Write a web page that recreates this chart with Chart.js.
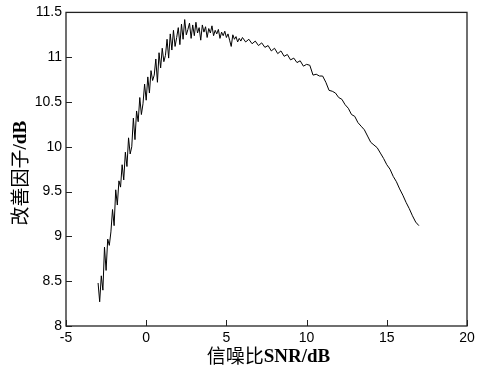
<!DOCTYPE html>
<html>
<head>
<meta charset="utf-8">
<script src="https://cdn.jsdelivr.net/npm/chart.js@4.4.0/dist/chart.umd.min.js"></script>
<style>
html,body{margin:0;padding:0;background:#fff;}
canvas{display:block;}
</style>
</head>
<body>
<canvas id="c" width="488" height="368"></canvas>
<script>
const snr = [
-3.0,-2.9,-2.8,-2.7,-2.6,-2.5,-2.4,-2.3,-2.2,-2.1,
-2.0,-1.9,-1.8,-1.7,-1.6,-1.5,-1.4,-1.3,-1.2,-1.1,
-1.0,-0.9,-0.8,-0.7,-0.6,-0.5,-0.4,-0.3,-0.2,-0.1,
0.0,0.1,0.2,0.3,0.4,0.5,0.6,0.7,0.8,0.9,
1.0,1.1,1.2,1.3,1.4,1.5,1.6,1.7,1.8,1.9,
2.0,2.1,2.2,2.3,2.4,2.5,2.6,2.7,2.8,2.9,
3.0,3.1,3.2,3.3,3.4,3.5,3.6,3.7,3.8,3.9,
4.0,4.1,4.2,4.3,4.4,4.5,4.6,4.7,4.8,4.9,
5.0,5.1,5.2,5.3,5.4,5.5,5.6,5.7,5.8,5.9,
6.0,6.2,6.4,6.6,6.8,7.0,7.2,7.4,7.6,7.8,
8.0,8.2,8.4,8.6,8.8,9.0,9.2,9.4,9.6,9.8,
10.0,10.2,10.4,10.6,10.8,11.0,11.2,11.4,11.6,11.8,
12.0,12.2,12.4,12.6,12.8,13.0,13.2,13.4,13.6,13.8,
14.0,14.2,14.4,14.6,14.8,15.0,15.2,15.4,15.6,15.8,
16.0,16.2,16.4,16.6,16.8,17.0
];
const gain = [
8.48,8.27,8.56,8.40,8.88,8.62,8.97,8.90,9.05,9.30,
9.12,9.52,9.35,9.62,9.55,9.80,9.63,9.94,9.78,10.10,
9.92,10.00,10.32,10.08,10.40,10.28,10.55,10.36,10.48,10.70,
10.52,10.78,10.60,10.85,10.74,10.80,10.98,10.72,11.05,10.88,
11.10,10.95,11.02,11.20,10.99,11.26,11.08,11.30,11.12,11.22,
11.33,11.14,11.37,11.20,11.42,11.25,11.31,11.38,11.21,11.36,
11.24,11.39,11.27,11.33,11.19,11.36,11.28,11.34,11.22,11.32,
11.27,11.35,11.24,11.30,11.26,11.31,11.21,11.28,11.24,11.29,
11.22,11.26,11.19,11.12,11.25,11.20,11.23,11.17,11.21,11.18,
11.22,11.17,11.20,11.15,11.18,11.13,11.16,11.11,11.13,11.07,
11.10,11.04,11.07,11.01,11.03,10.97,10.99,10.94,10.96,10.90,
10.92,10.91,10.80,10.81,10.79,10.79,10.72,10.63,10.62,10.60,
10.55,10.53,10.47,10.43,10.36,10.34,10.27,10.23,10.19,10.12,
10.05,10.02,9.99,9.93,9.87,9.80,9.75,9.67,9.61,9.53,
9.46,9.38,9.31,9.23,9.16,9.12
];
const xTicks = [-5, 0, 5, 10, 15, 20];
const yTicks = [8, 8.5, 9, 9.5, 10, 10.5, 11, 11.5];
const xTitleParts = ['信噪比', 'SNR/dB'];
const yTitleParts = ['改善因子', '/dB'];

const points = snr.map((x, i) => ({x: x, y: gain[i]}));

const cjkFont = 'normal 19px "Noto Sans CJK SC", sans-serif';
const latinFont = 'bold 19px "Liberation Serif", "Times New Roman", serif';

function drawTitle(ctx, parts, cx, cy, rot) {
  ctx.save();
  ctx.translate(cx, cy);
  ctx.rotate(rot);
  ctx.fillStyle = '#000';
  ctx.textBaseline = 'middle';
  ctx.textAlign = 'left';
  ctx.font = cjkFont;
  const w1 = ctx.measureText(parts[0]).width;
  ctx.font = latinFont;
  const w2 = ctx.measureText(parts[1]).width;
  let x0 = -(w1 + w2) / 2;
  ctx.font = cjkFont;
  ctx.fillText(parts[0], x0, 0);
  ctx.font = latinFont;
  ctx.fillText(parts[1], x0 + w1, 1);
  ctx.restore();
}

const frame = {
  id: 'frame',
  afterDraw(chart) {
    const {ctx, chartArea: a, scales} = chart;
    ctx.save();
    ctx.strokeStyle = '#222';
    ctx.lineWidth = 1.3;
    ctx.strokeRect(a.left, a.top, a.right - a.left, a.bottom - a.top);
    ctx.lineWidth = 1;
    ctx.beginPath();
    xTicks.forEach(v => {
      const px = Math.round(scales.x.getPixelForValue(v)) + 0.5;
      ctx.moveTo(px, a.bottom);
      ctx.lineTo(px, a.bottom - 6);
    });
    yTicks.forEach(v => {
      const py = Math.round(scales.y.getPixelForValue(v)) + 0.5;
      ctx.moveTo(a.left, py);
      ctx.lineTo(a.left + 6, py);
    });
    ctx.stroke();
    ctx.restore();
    drawTitle(ctx, xTitleParts, (a.left + a.right) / 2 + 2, 356, 0);
    drawTitle(ctx, yTitleParts, 20, (a.top + a.bottom) / 2 + 4, -Math.PI / 2);
  }
};

const tickFont = {family: '"Liberation Sans", Arial, sans-serif', size: 14};

new Chart(document.getElementById('c'), {
  type: 'line',
  data: {
    datasets: [{
      data: points,
      borderColor: '#000',
      borderWidth: 1,
      pointRadius: 0,
      tension: 0,
      fill: false
    }]
  },
  options: {
    responsive: false,
    animation: false,
    layout: {padding: {left: 0, top: 11, right: 21, bottom: 0}},
    plugins: {legend: {display: false}, tooltip: {enabled: false}},
    scales: {
      x: {
        type: 'linear',
        min: -5, max: 20,
        afterBuildTicks(s) { s.ticks = xTicks.map(v => ({value: v})); },
        afterFit(s) { s.height = 42; },
        grid: {display: false, drawTicks: false},
        border: {display: false},
        ticks: {color: '#000', font: tickFont, padding: 4, maxRotation: 0, callback: v => String(v)},
        title: {display: false}
      },
      y: {
        type: 'linear',
        min: 8, max: 11.5,
        afterBuildTicks(s) { s.ticks = yTicks.map(v => ({value: v})); },
        afterFit(s) { s.width = 66; },
        grid: {display: false, drawTicks: false},
        border: {display: false},
        ticks: {color: '#000', font: tickFont, padding: 4, callback: v => String(v)},
        title: {display: false}
      }
    }
  },
  plugins: [frame]
});
</script>
</body>
</html>
